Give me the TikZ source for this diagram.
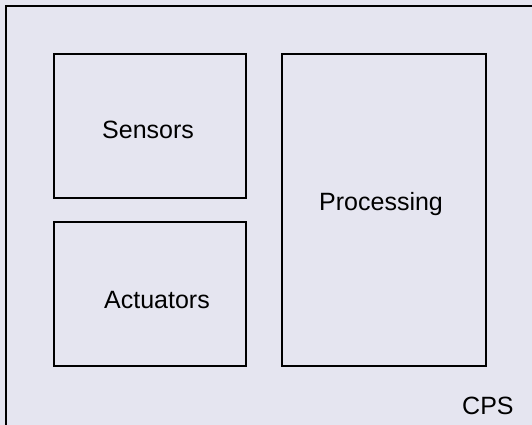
\documentclass[tikz,border=0pt]{standalone}
\usepackage{fontspec}
\setmainfont{Liberation Sans}
\definecolor{bgcol}{RGB}{229,229,240}
\begin{document}
\begin{tikzpicture}[x=1pt,y=-1pt,
  box/.style={draw=black,line width=1.1pt,fill=bgcol,inner sep=0pt,outer sep=0pt},
  lbl/.style={inner sep=0pt,anchor=base west,font=\fontsize{25}{30}\selectfont}]
\useasboundingbox (0,0) rectangle (532,425);
\clip (0,0) rectangle (532,425);
\fill[bgcol] (0,0) rectangle (532,425);
\node[box,minimum width=536pt,minimum height=436pt,anchor=north west] (cps) at (6,6) {};
\node[box,minimum width=192pt,minimum height=144pt,anchor=north west] (sensors) at (54,54) {};
\node[box,minimum width=192pt,minimum height=144pt,anchor=north west] (actuators) at (54,222) {};
\node[box,minimum width=204pt,minimum height=312pt,anchor=north west] (processing) at (282,54) {};
\node[lbl] (tsens) at (102,138) {Sensors};
\node[lbl] (tact) at (104,308) {Actuators};
\node[lbl] (tproc) at (319,210) {Processing};
\node[lbl] (tcps) at (462,414) {CPS};
\end{tikzpicture}
\end{document}
